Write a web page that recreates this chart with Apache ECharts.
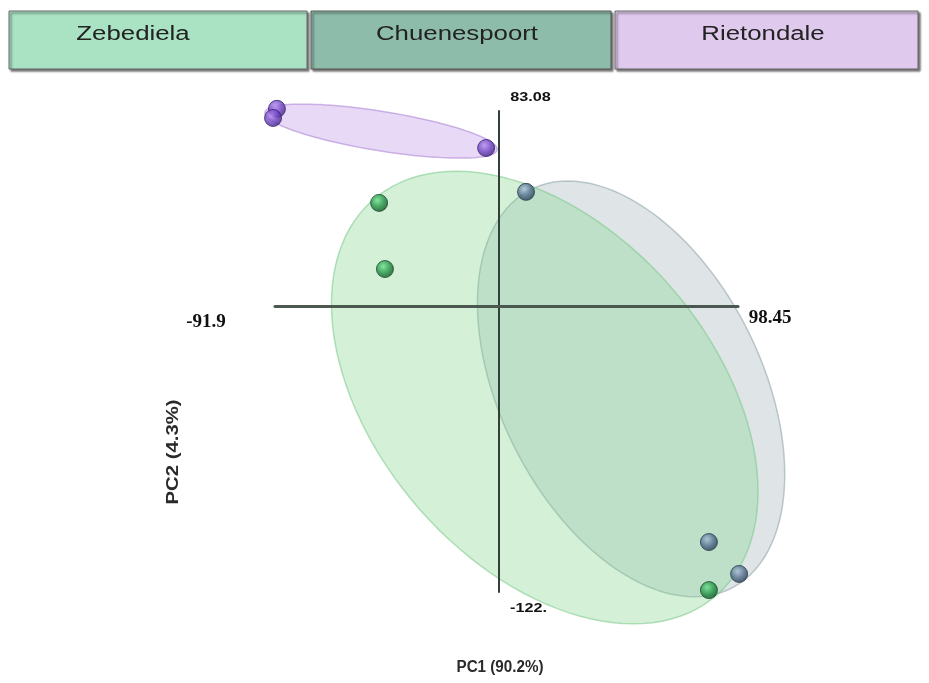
<!DOCTYPE html>
<html>
<head>
<meta charset="utf-8">
<script src="https://cdn.jsdelivr.net/npm/echarts@6/dist/echarts.min.js"></script>
<style>
  html, body { margin: 0; padding: 0; background: #fff; }
  #chart { width: 929px; height: 683px; }
</style>
</head>
<body>
<div id="chart"></div>
<script>
// groups
var groups = ["Zebediela", "Chuenespoort", "Rietondale"];

// PCA scores (PC1, PC2)
var zebX = [-49.1, -46.7, 86.5];
var zebY = [43.9, 15.7, -121.2];
var chuX = [11.3, 86.5, 98.9];
var chuY = [48.6, -100.7, -114.3];
var rieX = [-91.1, -92.7, -5.1];
var rieY = [84.0, 80.1, 67.3];

// confidence ellipses per group: centre, semi axes, angle (deg)
var ellCx = [19.0, 54.5, -48.3];
var ellCy = [-39.1, -35.4, 74.5];
var ellMajor = [110, 94.5, 48.4];
var ellMinor = [70, 54, 8.4];
var ellAngle = [-51.5, -65, -9.5];

// axis end values and their labels
var xMin = -91.9, xMax = 98.45;
var yMin = -122, yMax = 83.08;
var xTickLabels = ["-91.9", "98.45"];
var yTickLabels = ["83.08", "-122."];

var chart = echarts.init(document.getElementById("chart"));

var ellFill = ["rgba(120,210,135,0.32)", "rgba(150,170,175,0.30)", "rgba(190,150,230,0.35)"];
var ellStroke = ["rgba(120,200,135,0.55)", "rgba(140,160,165,0.55)", "rgba(175,135,215,0.6)"];
// draw grey first, then green, then purple
var ellOrder = [1, 0, 2];

var ellData = ellOrder.map(function (i) {
  return [ellCx[i], ellCy[i], ellMajor[i], ellMinor[i], ellAngle[i], i];
});

function pair(xs, ys) {
  return xs.map(function (x, i) { return [x, ys[i]]; });
}

function sphere(light, base, dark) {
  return {
    type: "radial", x: 0.4, y: 0.35, r: 0.7,
    colorStops: [
      { offset: 0, color: light },
      { offset: 0.55, color: base },
      { offset: 1, color: dark }
    ]
  };
}

// axis end labels
var endData = [
  [xMin, 0, 0], [xMax, 0, 1], [0, yMax, 2], [0, yMin, 3]
];
var endText = [xTickLabels[0], xTickLabels[1], yTickLabels[0], yTickLabels[1]];
var endOffset = [[-69, 16], [32, 12], [32, -14], [30, 16]];

var option = {
  animation: false,
  grid: { left: 275, right: 191, top: 111, bottom: 91 },
  xAxis: {
    type: "value", min: xMin, max: xMax, z: 5,
    axisLine: { onZero: true, lineStyle: { color: "#4a5850", width: 3 } },
    axisTick: { show: false }, axisLabel: { show: false }, splitLine: { show: false }
  },
  yAxis: {
    type: "value", min: yMin, max: yMax, z: 5,
    axisLine: { onZero: true, lineStyle: { color: "#33403a", width: 2 } },
    axisTick: { show: false }, axisLabel: { show: false }, splitLine: { show: false }
  },
  graphic: [
    { type: "rect", shape: { x: 9, y: 11, width: 298, height: 58 },
      style: { fill: "#a9e3c4", stroke: "#666", lineWidth: 1, shadowColor: "rgba(0,0,0,0.55)", shadowOffsetX: 2, shadowOffsetY: 2, shadowBlur: 2 } },
    { type: "rect", shape: { x: 311, y: 11, width: 300, height: 58 },
      style: { fill: "#8dbcab", stroke: "#555", lineWidth: 1, shadowColor: "rgba(0,0,0,0.55)", shadowOffsetX: 2, shadowOffsetY: 2, shadowBlur: 2 } },
    { type: "rect", shape: { x: 615, y: 11, width: 303, height: 58 },
      style: { fill: "#dfc9ec", stroke: "#666", lineWidth: 1, shadowColor: "rgba(0,0,0,0.55)", shadowOffsetX: 2, shadowOffsetY: 2, shadowBlur: 2 } },
    { type: "text", x: 133, y: 34, scaleX: 1.29,
      style: { text: groups[0], fill: "#222", font: "20px 'Liberation Sans', Arial, sans-serif", textAlign: "center", textVerticalAlign: "middle" } },
    { type: "text", x: 457, y: 34, scaleX: 1.29,
      style: { text: groups[1], fill: "#222", font: "20px 'Liberation Sans', Arial, sans-serif", textAlign: "center", textVerticalAlign: "middle" } },
    { type: "text", x: 763, y: 34, scaleX: 1.29,
      style: { text: groups[2], fill: "#222", font: "20px 'Liberation Sans', Arial, sans-serif", textAlign: "center", textVerticalAlign: "middle" } },
    { type: "text", x: 500, y: 668, scaleX: 0.95,
      style: { text: "PC1 (90.2%)", fill: "#2a2a2a", font: "bold 16px 'Liberation Sans', Arial, sans-serif", textAlign: "center", textVerticalAlign: "middle" } },
    { type: "text", x: 174, y: 452, rotation: Math.PI / 2, scaleX: 1.27,
      style: { text: "PC2 (4.3%)", fill: "#2a2a2a", font: "bold 16px 'Liberation Sans', Arial, sans-serif", textAlign: "center", textVerticalAlign: "middle" } }
  ],
  series: [
    {
      type: "custom",
      name: "ellipses",
      z: 1,
      data: ellData,
      renderItem: function (params, api) {
        var cx = api.value(0), cy = api.value(1);
        var a = api.value(2), b = api.value(3);
        var ang = api.value(4) * Math.PI / 180;
        var g = api.value(5);
        var pts = [];
        for (var i = 0; i < 120; i++) {
          var t = (i / 120) * Math.PI * 2;
          var dx = a * Math.cos(t) * Math.cos(ang) - b * Math.sin(t) * Math.sin(ang);
          var dy = a * Math.cos(t) * Math.sin(ang) + b * Math.sin(t) * Math.cos(ang);
          pts.push(api.coord([cx + dx, cy + dy]));
        }
        return {
          type: "polygon",
          shape: { points: pts },
          style: { fill: ellFill[g], stroke: ellStroke[g], lineWidth: 1.5 }
        };
      }
    },
    {
      type: "custom",
      name: "axisEnds",
      z: 6,
      data: endData,
      renderItem: function (params, api) {
        var k = api.value(2);
        var p = api.coord([api.value(0), api.value(1)]);
        var serif = k < 2;
        return {
          type: "text",
          x: p[0] + endOffset[k][0],
          y: p[1] + endOffset[k][1],
          scaleX: serif ? 1 : 1.25,
          style: {
            text: endText[k],
            fill: "#111",
            font: serif ? "bold 19px 'Liberation Serif', 'Times New Roman', serif" : "bold 13px 'Liberation Sans', Arial, sans-serif",
            textAlign: "center",
            textVerticalAlign: "middle",
            align: "center",
            verticalAlign: "middle"
          }
        };
      }
    },
    {
      type: "scatter", name: groups[0], z: 10, clip: false, symbolSize: 17,
      data: pair(zebX, zebY),
      itemStyle: { color: sphere("#6fe08e", "#1f8f40", "#0f4a22"), borderColor: "#1d4a2c", borderWidth: 1 }
    },
    {
      type: "scatter", name: groups[1], z: 10, clip: false, symbolSize: 17,
      data: pair(chuX, chuY),
      itemStyle: { color: sphere("#a9c0d8", "#4d6a88", "#223447"), borderColor: "#2a3a4c", borderWidth: 1 }
    },
    {
      type: "scatter", name: groups[2], z: 10, clip: false, symbolSize: 17,
      data: pair(rieX, rieY),
      itemStyle: { color: sphere("#b48ef0", "#6c40c0", "#35206e"), borderColor: "#3a2570", borderWidth: 1 }
    }
  ]
};

chart.setOption(option);
</script>
</body>
</html>
